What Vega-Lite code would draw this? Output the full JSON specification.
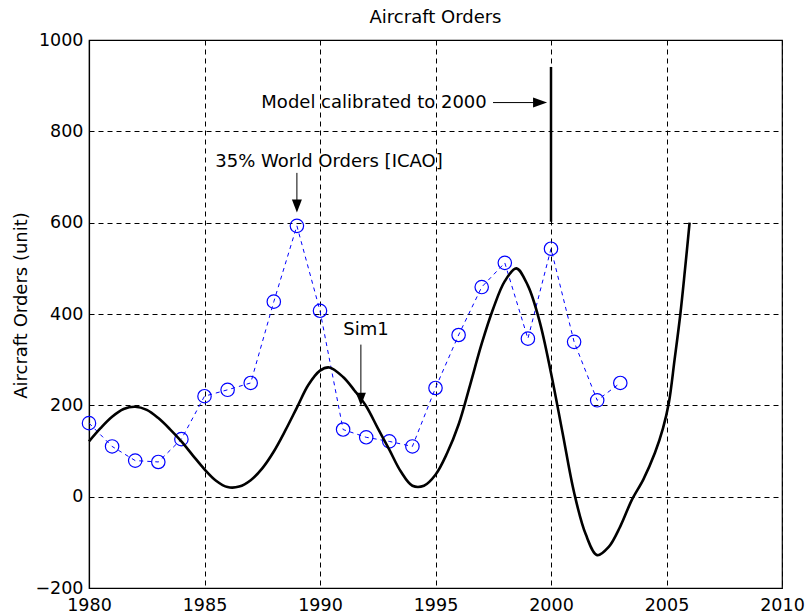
{
  "$schema": "https://vega.github.io/schema/vega-lite/v6.json",
  "width": 693,
  "height": 548,
  "autosize": {"type": "none"},
  "padding": {"left": 89, "top": 40, "right": 23, "bottom": 28},
  "background": "white",
  "title": {"text": "Aircraft Orders", "font": "DejaVu Sans", "fontSize": 18, "fontWeight": "normal", "color": "black", "offset": 4},
  "config": {
    "view": {"stroke": "black", "strokeWidth": 1.2},
    "axis": {
      "labelFont": "DejaVu Sans", "labelFontSize": 17.5, "labelColor": "black",
      "titleFont": "DejaVu Sans", "titleFontSize": 18, "titleFontWeight": "normal", "titleColor": "black",
      "grid": true, "gridColor": "black", "gridOpacity": 1, "gridWidth": 1, "gridDash": [5, 4],
      "domainColor": "black", "domainWidth": 1.2, "ticks": false,
      "labelFlush": false, "labelOverlap": false
    }
  },
  "datasets": {
    "obs": [
      {"year": 1980, "value": 161}, {"year": 1981, "value": 110}, {"year": 1982, "value": 79},
      {"year": 1983, "value": 76}, {"year": 1984, "value": 126}, {"year": 1985, "value": 220},
      {"year": 1986, "value": 234}, {"year": 1987, "value": 249}, {"year": 1988, "value": 427},
      {"year": 1989, "value": 593}, {"year": 1990, "value": 407}, {"year": 1991, "value": 147},
      {"year": 1992, "value": 130}, {"year": 1993, "value": 121}, {"year": 1994, "value": 110},
      {"year": 1995, "value": 238}, {"year": 1996, "value": 354}, {"year": 1997, "value": 459},
      {"year": 1998, "value": 512}, {"year": 1999, "value": 346}, {"year": 2000, "value": 543},
      {"year": 2001, "value": 339}, {"year": 2002, "value": 211}, {"year": 2003, "value": 249}
    ],
    "sim": [
      {"year": 1980.0, "value": 121}, {"year": 1980.5, "value": 150}, {"year": 1981.0, "value": 175},
      {"year": 1981.5, "value": 192}, {"year": 1982.0, "value": 197}, {"year": 1982.5, "value": 190},
      {"year": 1983.0, "value": 172}, {"year": 1983.5, "value": 148}, {"year": 1984.0, "value": 121},
      {"year": 1984.5, "value": 90}, {"year": 1985.0, "value": 60}, {"year": 1985.5, "value": 35},
      {"year": 1986.0, "value": 21}, {"year": 1986.5, "value": 22},
      {"year": 1987.0, "value": 36}, {"year": 1987.5, "value": 62}, {"year": 1988.0, "value": 99},
      {"year": 1988.5, "value": 145}, {"year": 1989.0, "value": 195}, {"year": 1989.5, "value": 245},
      {"year": 1990.0, "value": 276}, {"year": 1990.4, "value": 283},
      {"year": 1991.0, "value": 262}, {"year": 1991.5, "value": 232}, {"year": 1992.0, "value": 198},
      {"year": 1992.5, "value": 150}, {"year": 1993.0, "value": 103}, {"year": 1993.5, "value": 55},
      {"year": 1994.0, "value": 24}, {"year": 1994.5, "value": 24},
      {"year": 1995.0, "value": 48}, {"year": 1995.5, "value": 95}, {"year": 1996.0, "value": 158},
      {"year": 1996.5, "value": 245}, {"year": 1997.0, "value": 335}, {"year": 1997.5, "value": 412},
      {"year": 1998.0, "value": 472}, {"year": 1998.5, "value": 500},
      {"year": 1999.0, "value": 462}, {"year": 1999.5, "value": 385}, {"year": 2000.0, "value": 271},
      {"year": 2000.5, "value": 140}, {"year": 2001.0, "value": 9}, {"year": 2001.5, "value": -82},
      {"year": 2002.0, "value": -128}, {"year": 2002.5, "value": -110}, {"year": 2003.0, "value": -65},
      {"year": 2003.5, "value": -7}, {"year": 2004.0, "value": 38}, {"year": 2004.5, "value": 96},
      {"year": 2004.85, "value": 150}, {"year": 2005.1, "value": 205}, {"year": 2005.35, "value": 300},
      {"year": 2005.6, "value": 400}, {"year": 2005.8, "value": 497}, {"year": 2006.0, "value": 600}
    ],
    "calib": [{"year": 2000, "value": 602, "value2": 941}],
    "shafts": [
      {"year": 1989, "value": 709, "year2": 1989, "value2": 640},
      {"year": 1991.77, "value": 333, "year2": 1991.77, "value2": 215},
      {"year": 1997.49, "value": 863, "year2": 1999.7, "value2": 863}
    ],
    "downHeads": [{"year": 1989, "value": 622}, {"year": 1991.77, "value": 199}],
    "rightHeads": [{"year": 1999.83, "value": 863}],
    "notes": [
      {"year": 1990.39, "value": 733, "label": "35% World Orders [ICAO]"},
      {"year": 1992.34, "value": 863, "label": "Model calibrated to 2000"},
      {"year": 1991.99, "value": 366, "label": "Sim1"}
    ]
  },
  "encoding": {
    "x": {"field": "year", "type": "quantitative",
      "scale": {"domain": [1980, 2010], "nice": false, "zero": false},
      "axis": {"values": [1980, 1985, 1990, 1995, 2000, 2005, 2010], "format": "d", "title": null, "labelPadding": 8}},
    "y": {"field": "value", "type": "quantitative",
      "scale": {"domain": [-200, 1000], "nice": false, "zero": false},
      "axis": {"values": [-200, 0, 200, 400, 600, 800, 1000], "format": "d", "title": "Aircraft Orders (unit)",
        "labelPadding": 6, "titleX": -68, "titleY": 265, "titleAngle": -90, "titleAlign": "center", "titleBaseline": "middle"}}
  },
  "layer": [
    {"data": {"name": "obs"}, "mark": {"type": "line", "color": "#0000ff", "strokeWidth": 1, "strokeDash": [4, 4]}},
    {"data": {"name": "obs"}, "mark": {"type": "point", "shape": "circle", "filled": false, "color": "#0000ff", "strokeWidth": 1.2, "size": 180, "opacity": 1}},
    {"data": {"name": "sim"}, "mark": {"type": "line", "color": "black", "strokeWidth": 2.6, "interpolate": "catmull-rom"}},
    {"data": {"name": "calib"}, "mark": {"type": "rule", "color": "black", "strokeWidth": 2.5},
      "encoding": {"y2": {"field": "value2"}}},
    {"data": {"name": "shafts"}, "mark": {"type": "rule", "color": "black", "strokeWidth": 1},
      "encoding": {"x2": {"field": "year2"}, "y2": {"field": "value2"}}},
    {"data": {"name": "downHeads"}, "mark": {"type": "point", "shape": "M0,0L-1,-2.6L1,-2.6Z", "filled": true, "color": "black", "size": 100, "opacity": 1}},
    {"data": {"name": "rightHeads"}, "mark": {"type": "point", "shape": "M0,0L-2.8,-1L-2.8,1Z", "filled": true, "color": "black", "size": 100, "opacity": 1}},
    {"data": {"name": "notes"}, "mark": {"type": "text", "font": "DejaVu Sans", "fontSize": 18, "color": "black", "align": "center", "baseline": "middle"},
      "encoding": {"text": {"field": "label"}}}
  ]
}
